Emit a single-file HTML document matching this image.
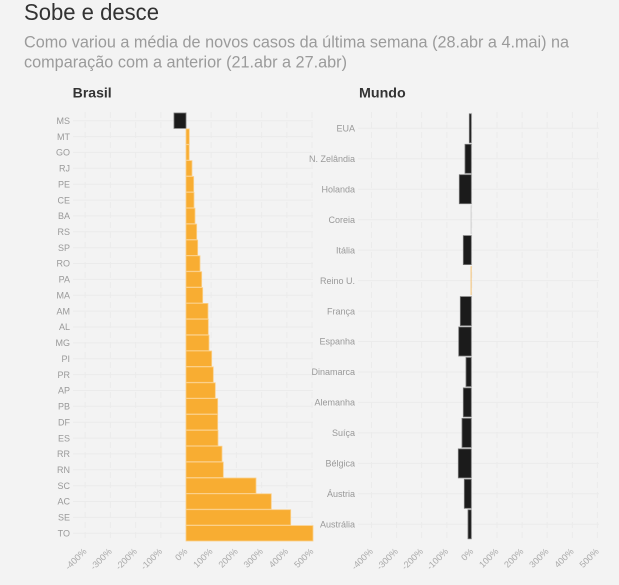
<!DOCTYPE html>
<html><head><meta charset="utf-8"><style>
html,body{margin:0;padding:0;background:#f3f3f3;}
svg{display:block;font-family:"Liberation Sans",sans-serif;}
</style></head><body>
<svg width="619" height="585" viewBox="0 0 619 585" xmlns="http://www.w3.org/2000/svg">
<rect width="619" height="585" fill="#f3f3f3"/>
<text x="24" y="20" font-size="23" fill="#333" textLength="135" lengthAdjust="spacingAndGlyphs">Sobe e desce</text>
<text x="24" y="47.5" font-size="16.5" fill="#9b9b9b" textLength="545" lengthAdjust="spacingAndGlyphs">Como variou a média de novos casos da última semana (28.abr a 4.mai) na</text>
<text x="24" y="67.7" font-size="16.5" fill="#9b9b9b" textLength="323" lengthAdjust="spacingAndGlyphs">comparação com a anterior (21.abr a 27.abr)</text>
<text x="72.7" y="97.7" font-size="14" font-weight="bold" fill="#333" textLength="39" lengthAdjust="spacingAndGlyphs">Brasil</text>
<text x="359" y="97.5" font-size="14" font-weight="bold" fill="#333" textLength="46.7" lengthAdjust="spacingAndGlyphs">Mundo</text>

<g id="left">
<g stroke="#ebebeb" stroke-width="1" stroke-dasharray="6,4">
<line x1="85.2" y1="112" x2="85.2" y2="542"/><line x1="110.4" y1="112" x2="110.4" y2="542"/><line x1="135.6" y1="112" x2="135.6" y2="542"/><line x1="160.8" y1="112" x2="160.8" y2="542"/><line x1="186" y1="112" x2="186" y2="542"/><line x1="211.2" y1="112" x2="211.2" y2="542"/><line x1="236.4" y1="112" x2="236.4" y2="542"/><line x1="261.6" y1="112" x2="261.6" y2="542"/><line x1="286.8" y1="112" x2="286.8" y2="542"/><line x1="312" y1="112" x2="312" y2="542"/>
</g>
<g stroke="#ebebeb" stroke-width="1">
<line x1="73" x2="313" y1="120.7" y2="120.7"/><line x1="73" x2="313" y1="136.6" y2="136.6"/><line x1="73" x2="313" y1="152.4" y2="152.4"/><line x1="73" x2="313" y1="168.3" y2="168.3"/><line x1="73" x2="313" y1="184.2" y2="184.2"/><line x1="73" x2="313" y1="200.1" y2="200.1"/><line x1="73" x2="313" y1="215.9" y2="215.9"/><line x1="73" x2="313" y1="231.8" y2="231.8"/><line x1="73" x2="313" y1="247.7" y2="247.7"/><line x1="73" x2="313" y1="263.5" y2="263.5"/><line x1="73" x2="313" y1="279.4" y2="279.4"/><line x1="73" x2="313" y1="295.3" y2="295.3"/><line x1="73" x2="313" y1="311.1" y2="311.1"/><line x1="73" x2="313" y1="327" y2="327"/><line x1="73" x2="313" y1="342.9" y2="342.9"/><line x1="73" x2="313" y1="358.7" y2="358.7"/><line x1="73" x2="313" y1="374.6" y2="374.6"/><line x1="73" x2="313" y1="390.5" y2="390.5"/><line x1="73" x2="313" y1="406.3" y2="406.3"/><line x1="73" x2="313" y1="422.2" y2="422.2"/><line x1="73" x2="313" y1="438.1" y2="438.1"/><line x1="73" x2="313" y1="453.9" y2="453.9"/><line x1="73" x2="313" y1="469.8" y2="469.8"/><line x1="73" x2="313" y1="485.7" y2="485.7"/><line x1="73" x2="313" y1="501.5" y2="501.5"/><line x1="73" x2="313" y1="517.4" y2="517.4"/><line x1="73" x2="313" y1="533.3" y2="533.3"/>
</g>
<g font-size="9" fill="#999" text-anchor="end">
<text x="70" y="123.9">MS</text><text x="70" y="139.8">MT</text><text x="70" y="155.6">GO</text><text x="70" y="171.5">RJ</text><text x="70" y="187.4">PE</text><text x="70" y="203.3">CE</text><text x="70" y="219.1">BA</text><text x="70" y="235">RS</text><text x="70" y="250.9">SP</text><text x="70" y="266.7">RO</text><text x="70" y="282.6">PA</text><text x="70" y="298.5">MA</text><text x="70" y="314.3">AM</text><text x="70" y="330.2">AL</text><text x="70" y="346.1">MG</text><text x="70" y="361.9">PI</text><text x="70" y="377.8">PR</text><text x="70" y="393.7">AP</text><text x="70" y="409.5">PB</text><text x="70" y="425.4">DF</text><text x="70" y="441.3">ES</text><text x="70" y="457.1">RR</text><text x="70" y="473">RN</text><text x="70" y="488.9">SC</text><text x="70" y="504.7">AC</text><text x="70" y="520.6">SE</text><text x="70" y="536.5">TO</text>
</g>
<rect x="174" y="113" width="12" height="15.4" fill="#1b1b1b" stroke="#777" stroke-width="0.8"/>
<g fill="#f8ad32" stroke="#fbd08a" stroke-width="0.8">
<rect x="186" y="128.9" width="3.3" height="15.4"/>
<rect x="186" y="144.7" width="3.2" height="15.4"/>
<rect x="186" y="160.6" width="6" height="15.4"/>
<rect x="186" y="176.5" width="7.7" height="15.4"/>
<rect x="186" y="192.4" width="8" height="15.4"/>
<rect x="186" y="208.2" width="9" height="15.4"/>
<rect x="186" y="224.1" width="10.7" height="15.4"/>
<rect x="186" y="240" width="11.7" height="15.4"/>
<rect x="186" y="255.8" width="14" height="15.4"/>
<rect x="186" y="271.7" width="15.7" height="15.4"/>
<rect x="186" y="287.6" width="16.7" height="15.4"/>
<rect x="186" y="303.4" width="22" height="15.4"/>
<rect x="186" y="319.3" width="22.3" height="15.4"/>
<rect x="186" y="335.2" width="23" height="15.4"/>
<rect x="186" y="351" width="25.7" height="15.4"/>
<rect x="186" y="366.9" width="27.3" height="15.4"/>
<rect x="186" y="382.8" width="29.3" height="15.4"/>
<rect x="186" y="398.6" width="31.7" height="15.4"/>
<rect x="186" y="414.5" width="31.7" height="15.4"/>
<rect x="186" y="430.4" width="32" height="15.4"/>
<rect x="186" y="446.2" width="36" height="15.4"/>
<rect x="186" y="462.1" width="37.3" height="15.4"/>
<rect x="186" y="478" width="70" height="15.4"/>
<rect x="186" y="493.8" width="85.3" height="15.4"/>
<rect x="186" y="509.7" width="104.7" height="15.4"/>
<rect x="186" y="525.6" width="127" height="15.4"/>
</g>
<g font-size="9" fill="#aaa" text-anchor="end">
<text x="87.2" y="552" transform="rotate(-45 87.2 552)">-400%</text>
<text x="112.4" y="552" transform="rotate(-45 112.4 552)">-300%</text>
<text x="137.6" y="552" transform="rotate(-45 137.6 552)">-200%</text>
<text x="162.8" y="552" transform="rotate(-45 162.8 552)">-100%</text>
<text x="188" y="552" transform="rotate(-45 188 552)">0%</text>
<text x="213.2" y="552" transform="rotate(-45 213.2 552)">100%</text>
<text x="238.4" y="552" transform="rotate(-45 238.4 552)">200%</text>
<text x="263.6" y="552" transform="rotate(-45 263.6 552)">300%</text>
<text x="288.8" y="552" transform="rotate(-45 288.8 552)">400%</text>
<text x="314" y="552" transform="rotate(-45 314 552)">500%</text>
</g>
</g>

<g id="right">
<g stroke="#ebebeb" stroke-width="1" stroke-dasharray="6,4">
<line x1="371.5" y1="112" x2="371.5" y2="542"/><line x1="396.6" y1="112" x2="396.6" y2="542"/><line x1="421.7" y1="112" x2="421.7" y2="542"/><line x1="446.8" y1="112" x2="446.8" y2="542"/><line x1="471.9" y1="112" x2="471.9" y2="542"/><line x1="497" y1="112" x2="497" y2="542"/><line x1="522.1" y1="112" x2="522.1" y2="542"/><line x1="547.2" y1="112" x2="547.2" y2="542"/><line x1="572.3" y1="112" x2="572.3" y2="542"/><line x1="597.4" y1="112" x2="597.4" y2="542"/>
</g>
<g stroke="#ebebeb" stroke-width="1">
<line x1="358" x2="599" y1="128.3" y2="128.3"/><line x1="358" x2="599" y1="158.8" y2="158.8"/><line x1="358" x2="599" y1="189.2" y2="189.2"/><line x1="358" x2="599" y1="219.7" y2="219.7"/><line x1="358" x2="599" y1="250.1" y2="250.1"/><line x1="358" x2="599" y1="280.6" y2="280.6"/><line x1="358" x2="599" y1="311.1" y2="311.1"/><line x1="358" x2="599" y1="341.5" y2="341.5"/><line x1="358" x2="599" y1="372" y2="372"/><line x1="358" x2="599" y1="402.4" y2="402.4"/><line x1="358" x2="599" y1="432.9" y2="432.9"/><line x1="358" x2="599" y1="463.4" y2="463.4"/><line x1="358" x2="599" y1="493.8" y2="493.8"/><line x1="358" x2="599" y1="524.3" y2="524.3"/>
</g>
<g font-size="9" fill="#999" text-anchor="end">
<text x="355" y="131.5">EUA</text><text x="355" y="162">N. Zelândia</text><text x="355" y="192.4">Holanda</text><text x="355" y="222.9">Coreia</text><text x="355" y="253.3">Itália</text><text x="355" y="283.8">Reino U.</text><text x="355" y="314.3">França</text><text x="355" y="344.7">Espanha</text><text x="355" y="375.2">Dinamarca</text><text x="355" y="405.6">Alemanha</text><text x="355" y="436.1">Suíça</text><text x="355" y="466.6">Bélgica</text><text x="355" y="497">Áustria</text><text x="355" y="527.5">Austrália</text>
</g>
<g fill="#1b1b1b" stroke="#777" stroke-width="0.8">
<rect x="469.3" y="113.8" width="2" height="29"/>
<rect x="465" y="144.3" width="6.3" height="29"/>
<rect x="459.3" y="174.7" width="12" height="29"/>
<rect x="463.3" y="235.6" width="8" height="29"/>
<rect x="460.3" y="296.6" width="11" height="29"/>
<rect x="458.7" y="327" width="12.6" height="29"/>
<rect x="466" y="357.5" width="5.3" height="29"/>
<rect x="463.3" y="387.9" width="8" height="29"/>
<rect x="462" y="418.4" width="9.3" height="29"/>
<rect x="458.3" y="448.9" width="13" height="29"/>
<rect x="464.3" y="479.3" width="7" height="29"/>
<rect x="468" y="509.8" width="3.3" height="29"/>
</g>
<rect x="470.6" y="205.2" width="1" height="29" fill="#cfcfcf"/>
<rect x="470.6" y="266.1" width="1" height="29" fill="#f5c274"/>
<g font-size="9" fill="#aaa" text-anchor="end">
<text x="373.5" y="552" transform="rotate(-45 373.5 552)">-400%</text>
<text x="398.6" y="552" transform="rotate(-45 398.6 552)">-300%</text>
<text x="423.7" y="552" transform="rotate(-45 423.7 552)">-200%</text>
<text x="448.8" y="552" transform="rotate(-45 448.8 552)">-100%</text>
<text x="473.9" y="552" transform="rotate(-45 473.9 552)">0%</text>
<text x="499" y="552" transform="rotate(-45 499 552)">100%</text>
<text x="524.1" y="552" transform="rotate(-45 524.1 552)">200%</text>
<text x="549.2" y="552" transform="rotate(-45 549.2 552)">300%</text>
<text x="574.3" y="552" transform="rotate(-45 574.3 552)">400%</text>
<text x="599.4" y="552" transform="rotate(-45 599.4 552)">500%</text>
</g>
</g>
</svg>
</body></html>
